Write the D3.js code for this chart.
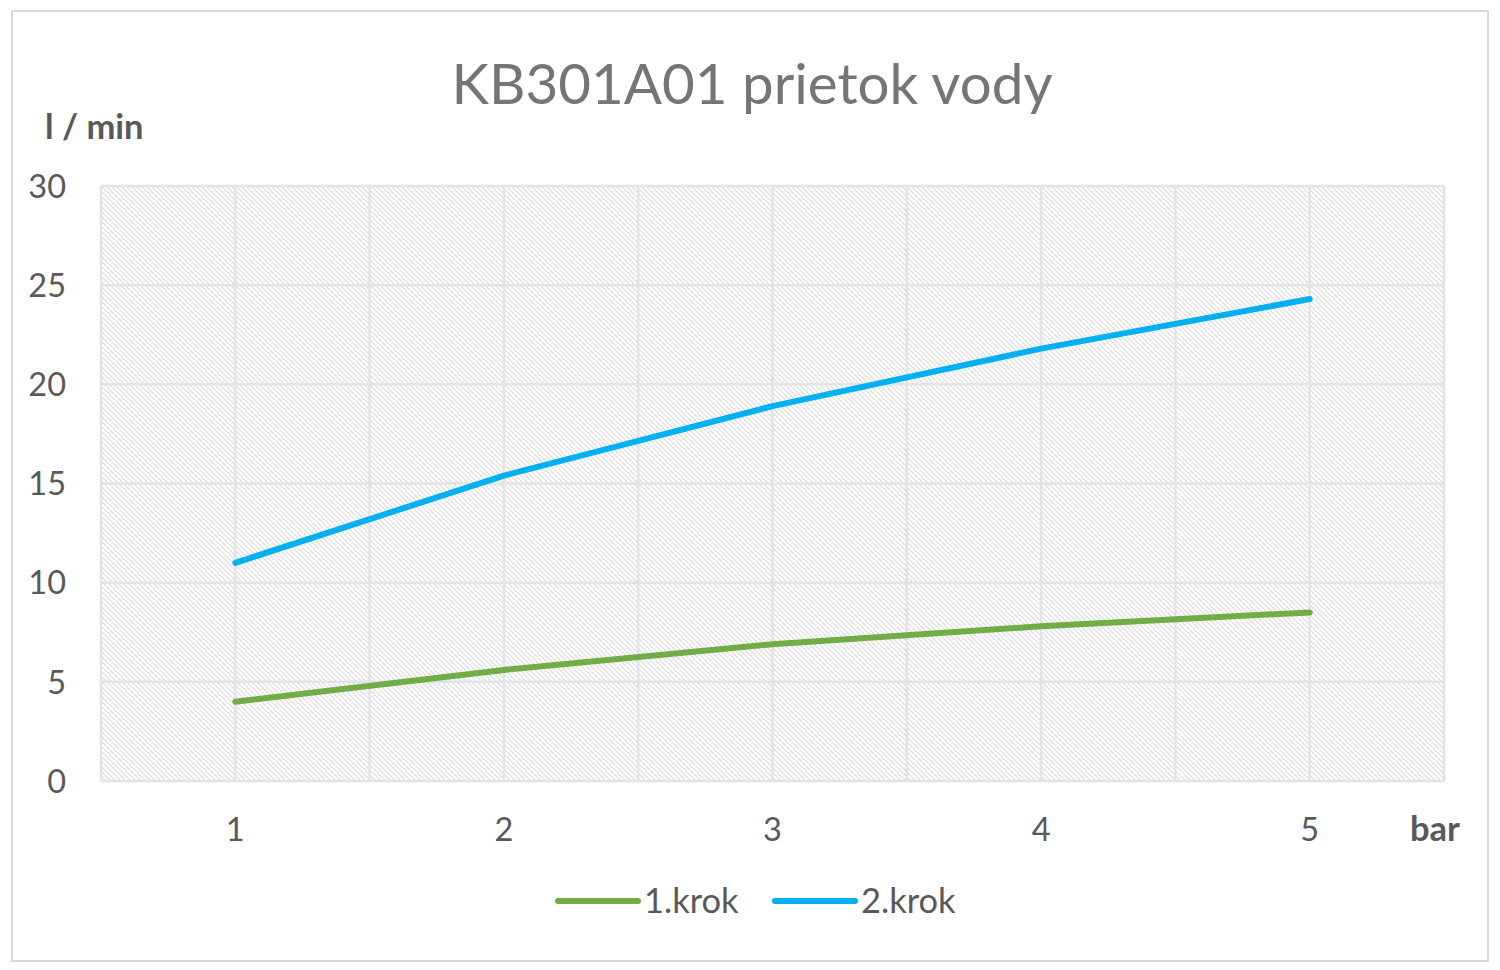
<!DOCTYPE html>
<html>
<head>
<meta charset="utf-8">
<script src="https://cdn.jsdelivr.net/npm/d3@7"></script>
<style>
body { margin: 0; background: #fff; }
text { font-family: Lato, "Open Sans", sans-serif; }
</style>
</head>
<body>
<div id="chart"></div>
<script>
var categories = ["1", "2", "3", "4", "5"];
var krok1 = [4.0, 5.6, 6.9, 7.8, 8.5];
var krok2 = [11.0, 15.4, 18.9, 21.8, 24.3];
var yTicks = [0, 5, 10, 15, 20, 25, 30];
var seriesNames = ["1.krok", "2.krok"];
var seriesColors = ["#70ad47", "#00b0f0"];

var W = 1500, H = 970;
var margin = {top: 186, right: 56, bottom: 189, left: 101},
width = W - margin.left - margin.right,
height = H - margin.top - margin.bottom;

var svg = d3.select("#chart")
.append("svg")
.attr("width", W)
.attr("height", H);

// outer frame
svg.append("rect")
.attr("x", 12).attr("y", 11)
.attr("width", 1476).attr("height", 950)
.attr("fill", "#fff")
.attr("stroke", "#d9d9d9")
.attr("stroke-width", 2);

// hatch pattern for plot area
var pat = svg.append("defs").append("pattern")
.attr("id", "hatch")
.attr("patternUnits", "userSpaceOnUse")
.attr("width", 5).attr("height", 5);
pat.append("rect").attr("width", 5).attr("height", 5).attr("fill", "#fff");
pat.append("path")
.attr("d", "M-1,-1 L6,6 M-1,4 L1,6 M4,-1 L6,1")
.attr("stroke", "#dadada")
.attr("stroke-width", 1.1);

var g = svg.append("g")
.attr("transform", "translate(" + margin.left + "," + margin.top + ")");

var x = d3.scaleBand()
.domain(categories)
.range([0, width]);

var y = d3.scaleLinear()
.domain([0, 30])
.range([height, 0]);

g.append("rect")
.attr("width", width).attr("height", height)
.attr("fill", "url(#hatch)");

// horizontal gridlines
g.selectAll(".hgrid")
.data(yTicks)
.enter().append("line")
.attr("x1", 0).attr("x2", width)
.attr("y1", function(d) { return y(d); })
.attr("y2", function(d) { return y(d); })
.attr("stroke", "#e3e3e3")
.attr("stroke-width", 2.5);

// vertical gridlines at band edges and centres
var vlines = [];
categories.forEach(function(c) {
  vlines.push(x(c));
  vlines.push(x(c) + x.bandwidth() / 2);
});
vlines.push(width);
g.selectAll(".vgrid")
.data(vlines)
.enter().append("line")
.attr("x1", function(d) { return d; })
.attr("x2", function(d) { return d; })
.attr("y1", 0).attr("y2", height)
.attr("stroke", "#e3e3e3")
.attr("stroke-width", 2.5);

// y tick labels
g.selectAll(".ytick")
.data(yTicks)
.enter().append("text")
.attr("x", -35)
.attr("y", function(d) { return y(d); })
.attr("dy", "0.36em")
.attr("text-anchor", "end")
.attr("font-size", 32.5)
.attr("fill", "#595959")
.text(function(d) { return d; });

// x tick labels
g.selectAll(".xtick")
.data(categories)
.enter().append("text")
.attr("x", function(d) { return x(d) + x.bandwidth() / 2; })
.attr("y", height + 60)
.attr("text-anchor", "middle")
.attr("font-size", 32.5)
.attr("fill", "#595959")
.text(function(d) { return d; });

// axis titles
svg.append("text")
.attr("x", 45).attr("y", 139)
.attr("font-size", 34.5)
.attr("font-weight", "bold")
.attr("fill", "#595959")
.text("l / min");

svg.append("text")
.attr("x", 1410).attr("y", 841)
.attr("font-size", 34.5)
.attr("font-weight", "bold")
.attr("fill", "#595959")
.text("bar");

// title
svg.append("text")
.attr("x", 752).attr("y", 104)
.attr("text-anchor", "middle")
.attr("font-size", 56.5)
.attr("fill", "#757575")
.text("KB301A01 prietok vody");

// lines
var line = d3.line()
.x(function(d, i) { return x(categories[i]) + x.bandwidth() / 2; })
.y(function(d) { return y(d); });

[krok1, krok2].forEach(function(s, i) {
  g.append("path")
  .datum(s)
  .attr("d", line)
  .attr("fill", "none")
  .attr("stroke", seriesColors[i])
  .attr("stroke-width", 6)
  .attr("stroke-linecap", "round")
  .attr("stroke-linejoin", "round");
});

// legend
var legendX = [558, 775];
seriesNames.forEach(function(n, i) {
  svg.append("line")
  .attr("x1", legendX[i]).attr("x2", legendX[i] + 80)
  .attr("y1", 901).attr("y2", 901)
  .attr("stroke", seriesColors[i])
  .attr("stroke-width", 6)
  .attr("stroke-linecap", "round");
  svg.append("text")
  .attr("x", legendX[i] + 86).attr("y", 913)
  .attr("font-size", 34.5)
  .attr("fill", "#595959")
  .text(n);
});
</script>
</body>
</html>
